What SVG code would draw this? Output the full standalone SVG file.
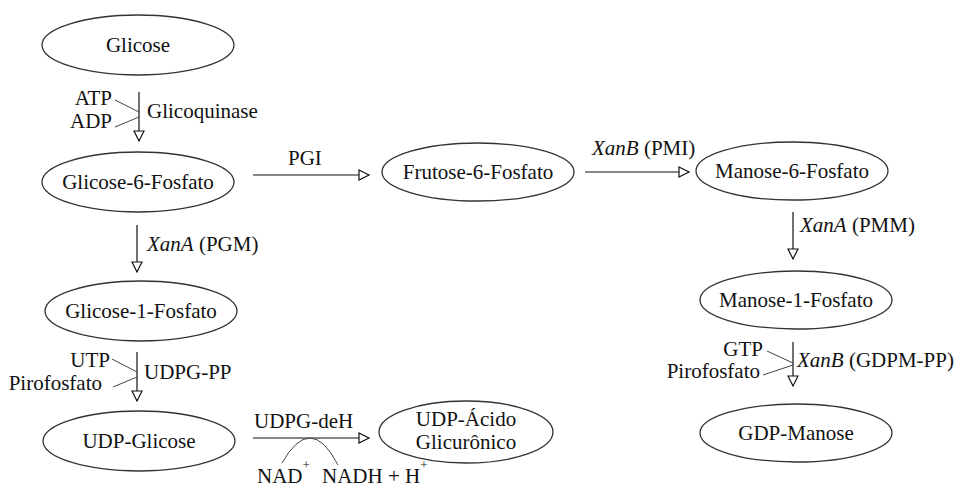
<svg xmlns="http://www.w3.org/2000/svg" width="955" height="487" viewBox="0 0 955 487" font-family="'Liberation Serif','Times New Roman',serif">
<style>
text{font-family:"Liberation Serif","Times New Roman",serif;font-size:21px;fill:#111}
.n ellipse{fill:#fff;stroke:#333;stroke-width:1.3}
.n text{text-anchor:middle}
.c line,.c path{stroke:#111;stroke-width:1.2;fill:none}
.c .s{stroke:#444;stroke-width:1}
.sup{font-size:13px}
</style>
<defs>
<marker id="ah" markerUnits="userSpaceOnUse" markerWidth="14" markerHeight="14" viewBox="0 0 14 14" refX="12" refY="7" orient="auto">
<path d="M2,2 L12,7 L2,12 Z" fill="#fff" stroke="#111" stroke-width="1.2"/>
</marker>
</defs>
<rect width="955" height="487" fill="#fff"/>
<g id="glicose" class="n"><ellipse cx="138" cy="45" rx="96" ry="30"/><text x="138" y="52">Glicose</text></g>
<g id="g6p" class="n"><ellipse cx="138" cy="182" rx="96" ry="30"/><text x="138" y="189">Glicose-6-Fosfato</text></g>
<g id="g1p" class="n"><ellipse cx="141" cy="311" rx="96" ry="30"/><text x="141" y="318">Glicose-1-Fosfato</text></g>
<g id="udpg" class="n"><ellipse cx="139" cy="441" rx="96" ry="30"/><text x="139" y="448">UDP-Glicose</text></g>
<g id="udpa" class="n"><ellipse cx="466" cy="432" rx="87" ry="31"/><text x="466" y="426">UDP-Ácido</text><text x="466" y="449">Glicurônico</text></g>
<g id="f6p" class="n"><ellipse cx="478" cy="172" rx="96" ry="29"/><text x="478" y="179">Frutose-6-Fosfato</text></g>
<g id="m6p" class="n"><ellipse cx="792" cy="171" rx="96" ry="29"/><text x="792" y="178">Manose-6-Fosfato</text></g>
<g id="m1p" class="n"><ellipse cx="796" cy="300" rx="96" ry="29"/><text x="796" y="307">Manose-1-Fosfato</text></g>
<g id="gdpm" class="n"><ellipse cx="796" cy="433" rx="96" ry="29"/><text x="796" y="440">GDP-Manose</text></g>
<g id="connectors" class="c">
<line x1="139" y1="92" x2="139" y2="141" marker-end="url(#ah)"/>
<line class="s" x1="115" y1="100" x2="139" y2="112"/>
<line class="s" x1="115" y1="127" x2="139" y2="117"/>
<line x1="137" y1="225" x2="137" y2="272" marker-end="url(#ah)"/>
<line x1="137" y1="352" x2="137" y2="401" marker-end="url(#ah)"/>
<line class="s" x1="112" y1="359" x2="137" y2="372"/>
<line class="s" x1="113" y1="387" x2="137" y2="377"/>
<line x1="253" y1="438" x2="369" y2="438" marker-end="url(#ah)"/>
<path class="s" d="M282,463 Q296,438 310,438 Q324,438 338,465"/>
<line x1="253" y1="175" x2="369" y2="175" marker-end="url(#ah)"/>
<line x1="585" y1="172" x2="689" y2="172" marker-end="url(#ah)"/>
<line x1="793" y1="212" x2="793" y2="259" marker-end="url(#ah)"/>
<line x1="793" y1="342" x2="793" y2="386" marker-end="url(#ah)"/>
<line class="s" x1="767" y1="351" x2="793" y2="363"/>
<line class="s" x1="763" y1="375" x2="793" y2="365"/>
</g>
<g id="labels">
<text x="112" y="105" text-anchor="end">ATP</text>
<text x="112" y="128" text-anchor="end">ADP</text>
<text x="147" y="118">Glicoquinase</text>
<text x="147" y="251"><tspan font-style="italic">XanA</tspan> (PGM)</text>
<text x="110" y="367" text-anchor="end">UTP</text>
<text x="102" y="390" text-anchor="end">Pirofosfato</text>
<text x="144" y="379">UDPG-PP</text>
<text x="254" y="428">UDPG-deH</text>
<text x="257" y="483">NAD<tspan class="sup" dy="-14">+</tspan></text>
<text x="322" y="483">NADH + H<tspan class="sup" dy="-14">+</tspan></text>
<text x="288" y="165">PGI</text>
<text x="592" y="155"><tspan font-style="italic">XanB</tspan> (PMI)</text>
<text x="800" y="232"><tspan font-style="italic">XanA</tspan> (PMM)</text>
<text x="763" y="356" text-anchor="end">GTP</text>
<text x="760" y="378" text-anchor="end">Pirofosfato</text>
<text x="797" y="367"><tspan font-style="italic">XanB</tspan> (GDPM-PP)</text>
</g>
</svg>
